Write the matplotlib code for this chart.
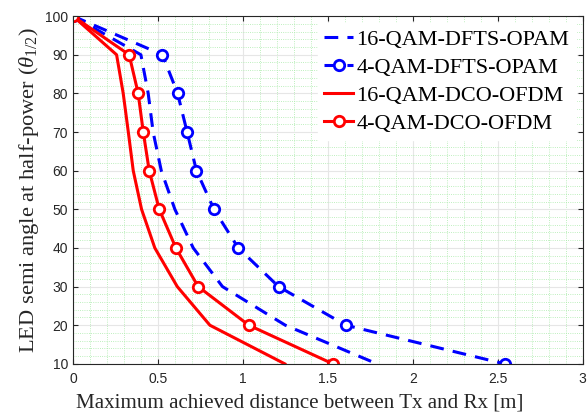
import numpy as np
import matplotlib.pyplot as plt
from matplotlib.ticker import MultipleLocator

theta = [100, 90, 80, 70, 60, 50, 40, 30, 20, 10]  # LED semi angle (deg)
d_16qam_dfts = [0.0, 0.40, 0.443, 0.472, 0.52, 0.60, 0.708, 0.88, 1.25, 1.79]
d_4qam_dfts = [0.0, 0.527, 0.616, 0.672, 0.727, 0.83, 0.973, 1.21, 1.606, 2.54]
d_16qam_dco = [0.0, 0.257, 0.296, 0.326, 0.355, 0.404, 0.482, 0.614, 0.806, 1.247]
d_4qam_dco = [0.0, 0.331, 0.384, 0.414, 0.449, 0.508, 0.606, 0.737, 1.035, 1.53]

plt.rcParams['font.family'] = 'Liberation Sans'
plt.rcParams['mathtext.fontset'] = 'custom'
plt.rcParams['mathtext.rm'] = 'Liberation Serif'
plt.rcParams['mathtext.it'] = 'Liberation Serif:italic'
fig = plt.figure(figsize=(5.88, 4.13), dpi=100)
ax = fig.add_axes([0.124, 0.119, 0.867, 0.842])

ax.plot(d_16qam_dfts, theta, 'b--', lw=2.2, dashes=(4.5, 3), label='16-QAM-DFTS-OPAM')
ax.plot(d_4qam_dfts, theta, 'b--', lw=2.2, dashes=(4.5, 3), marker='o', ms=7.5,
        mfc='white', mew=2, label='4-QAM-DFTS-OPAM')
ax.plot(d_16qam_dco, theta, 'r-', lw=2.2, label='16-QAM-DCO-OFDM')
ax.plot(d_4qam_dco, theta, 'r-', lw=2.2, marker='o', ms=7.5,
        mfc='white', mew=2, label='4-QAM-DCO-OFDM')

ax.set_xlim(0, 3)
ax.set_ylim(10, 100)
ax.xaxis.set_major_locator(MultipleLocator(0.5))
ax.xaxis.set_minor_locator(MultipleLocator(0.1))
ax.yaxis.set_major_locator(MultipleLocator(10))
ax.yaxis.set_minor_locator(MultipleLocator(2))
ax.set_xticks([0, 0.5, 1, 1.5, 2, 2.5, 3])
ax.set_xticklabels(['0', '0.5', '1', '1.5', '2', '2.5', '3'])
ax.tick_params(which='both', direction='in', top=True, right=True, labelsize=10,
               colors='#262626')
ax.tick_params(axis='x', pad=6)
ax.tick_params(which='minor', length=0)
ax.grid(which='major', color='#e6e6e6', lw=0.8)
ax.grid(which='minor', color='#a8eaa8', lw=0.6, ls=':')
ax.set_axisbelow(True)
for s in ax.spines.values():
    s.set_color('#262626')

ax.set_xlabel('Maximum achieved distance between Tx and Rx [m]',
              family='Liberation Serif', fontsize=15.1, color='#262626')
ax.xaxis.set_label_coords(0.445, -0.085)
ax.set_ylabel(r'LED semi angle at half-power ($\theta_{1/2}$)',
              family='Liberation Serif', fontsize=16.2, color='#262626', labelpad=3)

leg = ax.legend(loc='upper right', prop={'family': 'Liberation Serif', 'size': 16},
                frameon=True, fancybox=False, edgecolor='white', framealpha=1,
                handlelength=1.3, handletextpad=0.15, borderaxespad=0.3,
                labelspacing=0.33, borderpad=0.3)

plt.savefig('out.png', dpi=100)
